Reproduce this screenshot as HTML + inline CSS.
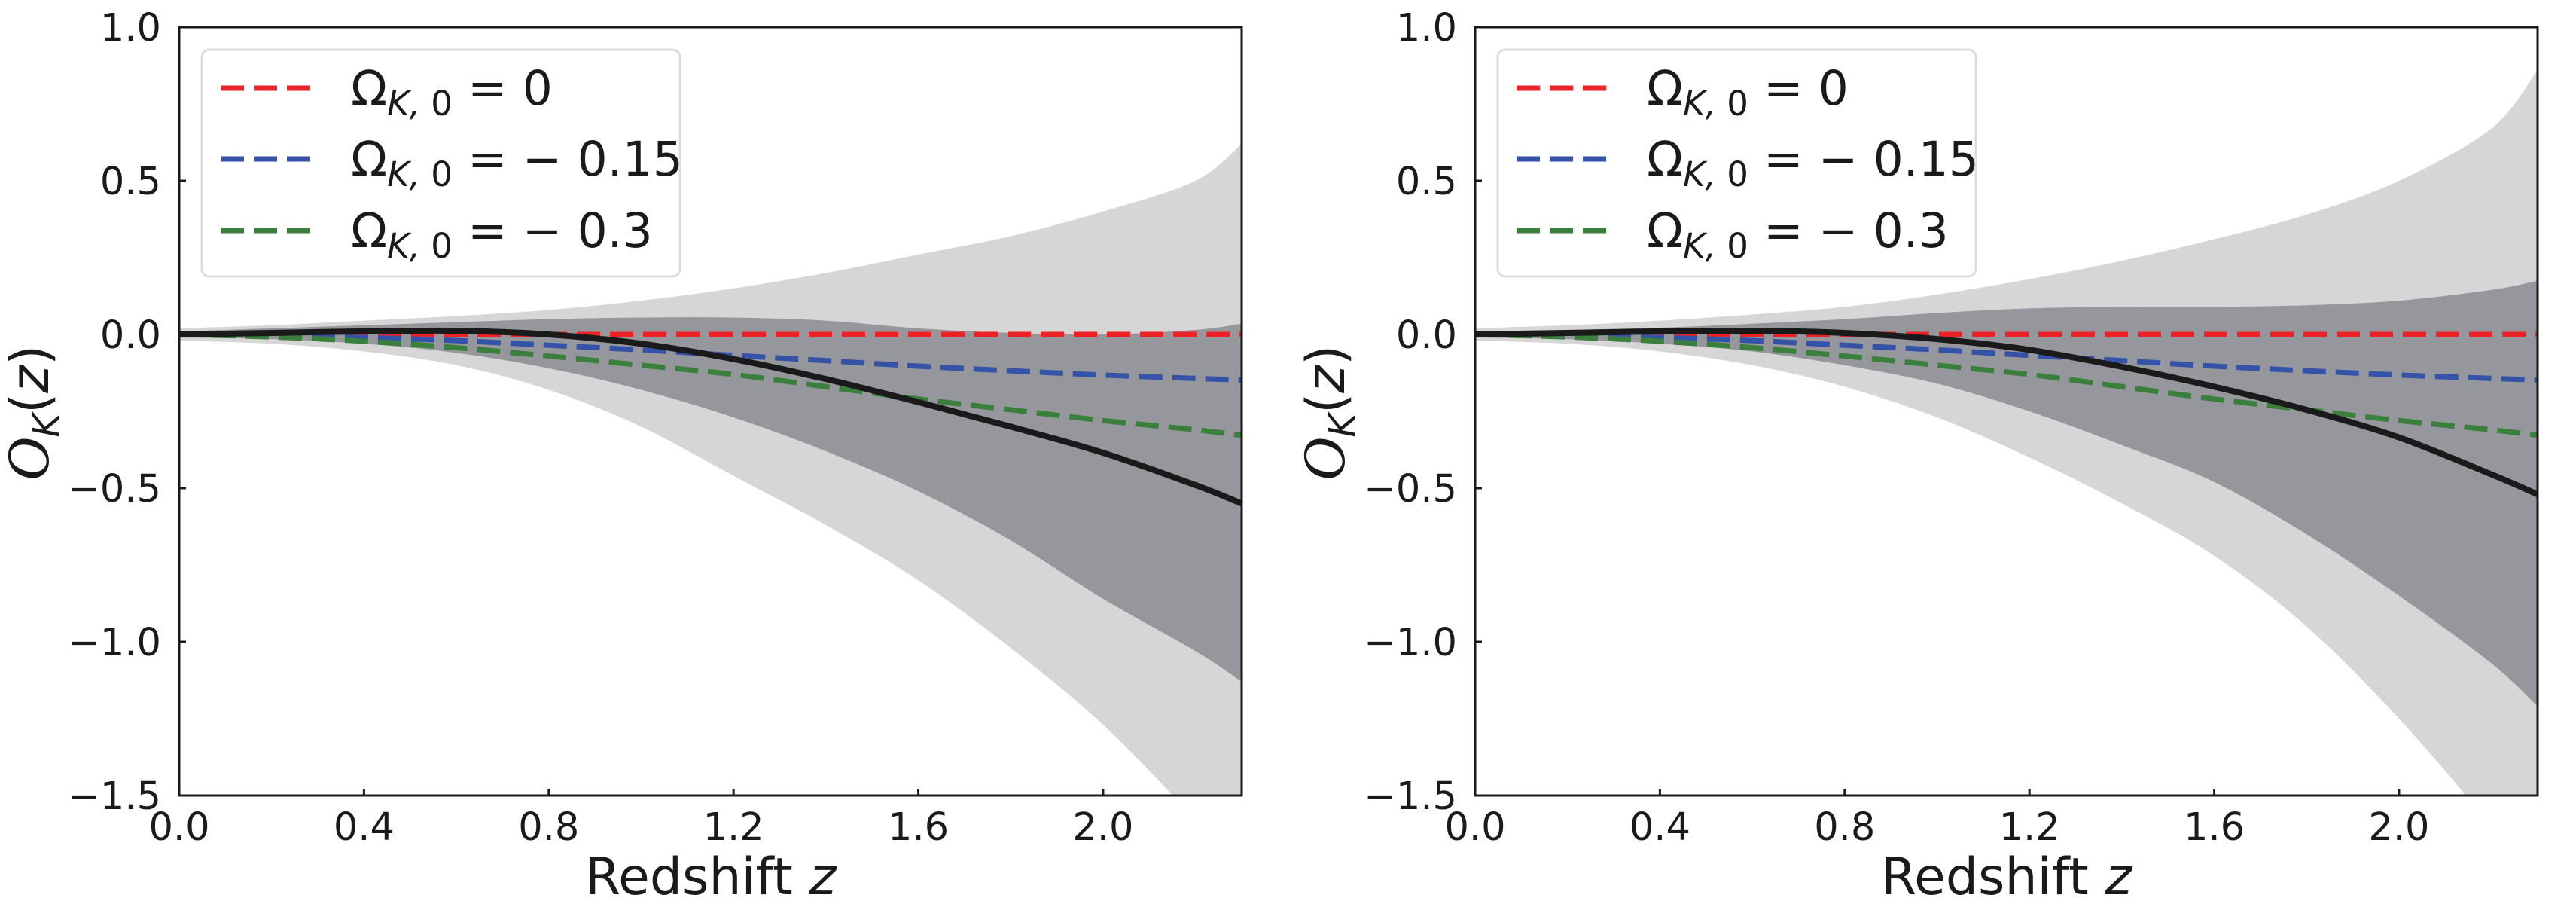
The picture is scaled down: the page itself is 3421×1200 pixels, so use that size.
<!DOCTYPE html>
<html><head><meta charset="utf-8">
<style>
html,body{margin:0;padding:0;background:#fff;}
svg{display:block;}
text{font-family:"DejaVu Sans","Liberation Sans",sans-serif;fill:#1a1a1a;}
</style></head>
<body>
<svg id="fig" width="3421" height="1200" viewBox="0 0 3421 1200" xmlns="http://www.w3.org/2000/svg"></svg>
<script>
const zGrid = [0, 0.2, 0.4, 0.6, 0.8, 1.0, 1.2, 1.4, 1.6, 1.8, 2.0, 2.2, 2.3];
const xTicks = [0, 0.4, 0.8, 1.2, 1.6, 2.0];
const xTickLabels = ["0.0", "0.4", "0.8", "1.2", "1.6", "2.0"];
const yTicks = [1.0, 0.5, 0.0, -0.5, -1.0, -1.5];
const yTickLabels = ["1.0", "0.5", "0.0", "\u22120.5", "\u22121.0", "\u22121.5"];
const legendLabels = ["0", "\u2212 0.15", "\u2212 0.3"];
// Shared model curves
const redVals   = [0, 0, 0, 0, 0, 0, 0, 0, 0, 0, 0, 0, 0];
const blueVals  = [0, -0.004, -0.01, -0.02, -0.035, -0.05, -0.068, -0.085, -0.103, -0.118, -0.132, -0.143, -0.148];
const greenVals = [0, -0.008, -0.022, -0.043, -0.07, -0.1, -0.13, -0.17, -0.21, -0.245, -0.28, -0.31, -0.328];
// Left panel
const L_lightUp = [0.02, 0.03, 0.045, 0.06, 0.08, 0.11, 0.15, 0.2, 0.26, 0.32, 0.40, 0.50, 0.62];
const L_lightLo = [-0.02, -0.03, -0.055, -0.1, -0.18, -0.3, -0.46, -0.62, -0.8, -1.02, -1.27, -1.58, -1.76];
const L_darkUp  = [0.01, 0.02, 0.03, 0.04, 0.05, 0.055, 0.055, 0.045, 0.02, 0.005, 0.0, 0.015, 0.035];
const L_darkLo  = [-0.01, -0.015, -0.03, -0.06, -0.11, -0.18, -0.27, -0.38, -0.51, -0.67, -0.86, -1.03, -1.13];
const L_black   = [0, 0.005, 0.01, 0.012, 0.0, -0.03, -0.08, -0.145, -0.22, -0.3, -0.385, -0.49, -0.55];
// Right panel
const R_lightUp = [0.02, 0.03, 0.045, 0.065, 0.09, 0.13, 0.18, 0.24, 0.31, 0.39, 0.5, 0.67, 0.86];
const R_lightLo = [-0.02, -0.03, -0.055, -0.1, -0.17, -0.27, -0.4, -0.55, -0.72, -0.95, -1.25, -1.6, -1.8];
const R_darkUp  = [0.01, 0.015, 0.022, 0.035, 0.05, 0.07, 0.085, 0.09, 0.09, 0.095, 0.11, 0.145, 0.175];
const R_darkLo  = [-0.01, -0.015, -0.03, -0.055, -0.1, -0.16, -0.25, -0.36, -0.48, -0.65, -0.85, -1.07, -1.21];
const R_black   = [0, 0.005, 0.01, 0.012, 0.005, -0.015, -0.05, -0.105, -0.17, -0.245, -0.335, -0.455, -0.52];

const NS = "http://www.w3.org/2000/svg";
const svg = document.getElementById('fig');
function mk(tag, attrs, parent){ const e=document.createElementNS(NS,tag); for(const k in attrs) e.setAttribute(k,attrs[k]); (parent||svg).appendChild(e); return e; }

function smoothPath(pts, move){
  let d = (move?'M':'L') + pts[0][0].toFixed(2)+','+pts[0][1].toFixed(2);
  for(let i=0;i<pts.length-1;i++){
    const p0=pts[Math.max(0,i-1)], p1=pts[i], p2=pts[i+1], p3=pts[Math.min(pts.length-1,i+2)];
    const c1=[p1[0]+(p2[0]-p0[0])/6, p1[1]+(p2[1]-p0[1])/6];
    const c2=[p2[0]-(p3[0]-p1[0])/6, p2[1]-(p3[1]-p1[1])/6];
    d+='C'+c1[0].toFixed(2)+','+c1[1].toFixed(2)+' '+c2[0].toFixed(2)+','+c2[1].toFixed(2)+' '+p2[0].toFixed(2)+','+p2[1].toFixed(2);
  }
  return d;
}

function panel(id, x0, x1, data){
  const y0=36, y1=1056, xmin=0, xmax=2.3, ymin=-1.5, ymax=1.0;
  const X = v => x0 + (v-xmin)/(xmax-xmin)*(x1-x0);
  const Y = v => y1 - (v-ymin)/(ymax-ymin)*(y1-y0);
  const g = mk('g',{});
  
  
  const clipId = id+'-clip';
  const defs = mk('defs',{},g);
  const cp = mk('clipPath',{id:clipId},defs);
  mk('rect',{x:x0,y:y0,width:x1-x0,height:y1-y0},cp);
  const plot = mk('g',{'clip-path':'url(#'+clipId+')'},g);
  function band(up, lo, fill, name){
    const top = zGrid.map((z,i)=>[X(z),Y(up[i])]);
    const bot = zGrid.map((z,i)=>[X(z),Y(lo[i])]).reverse();
    const p = mk('path',{d:smoothPath(top,true)+smoothPath(bot,false)+'Z',fill:fill,stroke:'none'},plot);
    
    
  }
  band(data.lightUp, data.lightLo, '#d6d6d6', 'band-2sigma');
  band(data.darkUp, data.darkLo, '#96979c', 'band-1sigma');
  function line(vals, color, dash, w, name){
    const pts = zGrid.map((z,i)=>[X(z),Y(vals[i])]);
    const p = mk('path',{d:smoothPath(pts,true),fill:'none',stroke:color,'stroke-width':w,'stroke-dasharray':dash||'none'},plot);
    
    
  }
  line(redVals,'#ec2227','31 13',7,'line-omega-0');
  line(blueVals,'#3352a8','31 13',7,'line-omega-015');
  line(greenVals,'#3a803c','31 13',7,'line-omega-03');
  line(data.black,'#1a1a1a',null,8,'reconstruction-line');
  const fr = mk('rect',{x:x0,y:y0,width:x1-x0,height:y1-y0,fill:'none',stroke:'#1a1a1a','stroke-width':3},g);
  
  
  xTicks.forEach((t,i)=>{
    mk('line',{x1:X(t),x2:X(t),y1:y1,y2:y1-9,stroke:'#1a1a1a','stroke-width':3},g);
    const tx = mk('text',{x:X(t),y:1115,'font-size':51,'text-anchor':'middle'},g);
    tx.textContent = xTickLabels[i];
    
    
  });
  yTicks.forEach((t,i)=>{
    mk('line',{x1:x0,x2:x0+9,y1:Y(t),y2:Y(t),stroke:'#1a1a1a','stroke-width':3},g);
    const tx = mk('text',{x:x0-24,y:Y(t)+18,'font-size':51,'text-anchor':'end'},g);
    tx.textContent = yTickLabels[i];
    
    
  });
  const xl = mk('text',{x:(x0+x1)/2,y:1187,'font-size':68,'text-anchor':'middle'},g);
  xl.innerHTML = 'Redshift <tspan font-style="italic">z</tspan>';
  
  
  const yl = mk('text',{x:0,y:0,'font-size':70,'text-anchor':'middle',transform:'translate('+(x0-174)+',548) rotate(-90)'},g);
  yl.innerHTML = '<tspan font-family="Liberation Serif" font-style="italic" font-size="80">O</tspan><tspan font-size="48" font-style="italic" dy="14">K</tspan><tspan dy="-14">(</tspan><tspan font-style="italic">z</tspan>)';
  
  
  const lx = x0+30;
  const lg = mk('g',{},g);
  
  
  mk('rect',{x:lx,y:66,width:635,height:301,rx:10,fill:'#fff','fill-opacity':0.85,stroke:'#dcdcdc','stroke-width':3},lg);
  const cols=['#ec2227','#3352a8','#3a803c'];
  const ys=[117,211,306];
  legendLabels.forEach((lab,i)=>{
    const ent = mk('g',{},lg);
    
    
    mk('line',{x1:lx+25,x2:lx+144,y1:ys[i],y2:ys[i],stroke:cols[i],'stroke-width':7,'stroke-dasharray':'31 13'},ent);
    const t = mk('text',{x:lx+198,y:ys[i]+22,'font-size':63},ent);
    t.innerHTML = 'Ω<tspan font-size="45" font-style="italic" dy="14">K,</tspan><tspan font-size="45"> 0</tspan><tspan dy="-14"> = '+lab+'</tspan>';
  });
}
panel('left', 238, 1649, {lightUp:L_lightUp, lightLo:L_lightLo, darkUp:L_darkUp, darkLo:L_darkLo, black:L_black});
panel('right', 1959, 3370, {lightUp:R_lightUp, lightLo:R_lightLo, darkUp:R_darkUp, darkLo:R_darkLo, black:R_black});
</script>
</body></html>
